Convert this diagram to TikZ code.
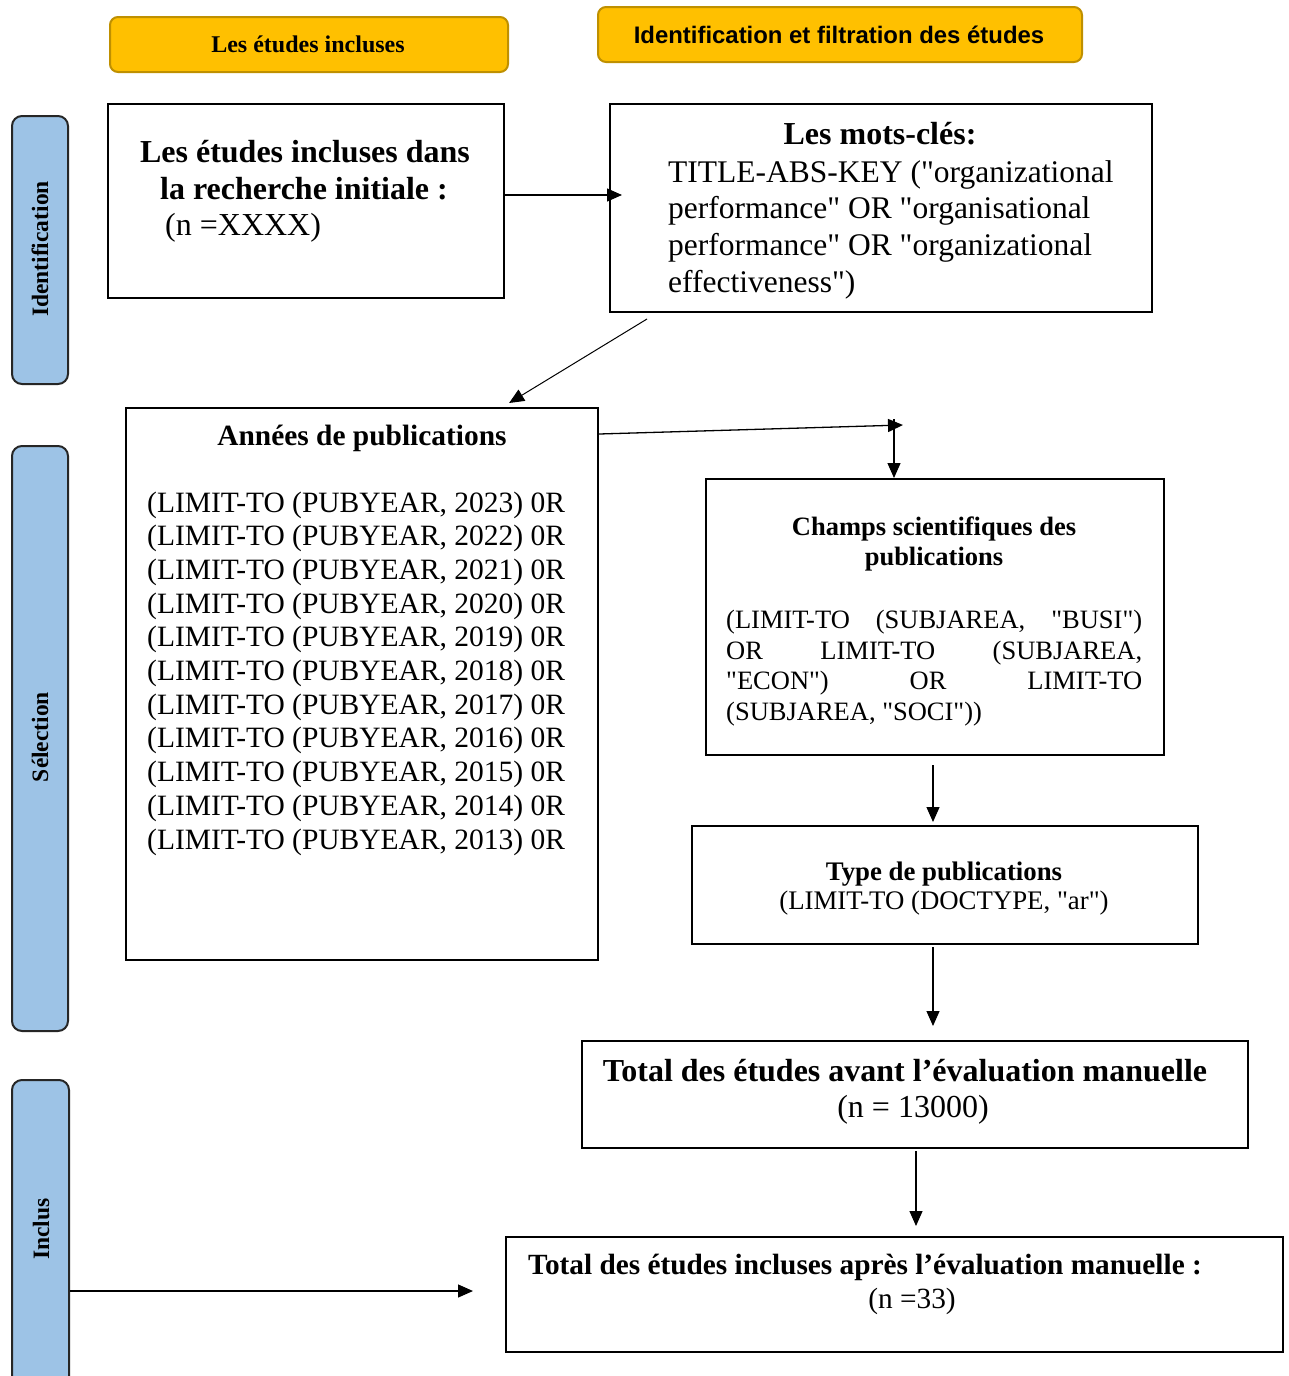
\documentclass[tikz,border=0pt]{standalone}
\usepackage{fontspec}
\setmainfont{Liberation Serif}[Ligatures=TeXOff]
\newfontfamily\arialfont{Liberation Sans}[Ligatures=TeXOff]
\usetikzlibrary{arrows.meta}
\definecolor{gold}{HTML}{FFC000}
\definecolor{golddark}{HTML}{BF9000}
\definecolor{lane}{HTML}{9DC3E6}
\newcommand{\fs}[2]{\fontsize{#1}{#2}\selectfont}
\tikzset{
  box/.style={draw=black, line width=2.2pt, rectangle, inner sep=0pt, anchor=north west},
  hdr/.style={draw=golddark, fill=gold, line width=2pt, rounded corners=8pt, inner sep=0pt, anchor=north west},
  lanebox/.style={draw=black!85, fill=lane, line width=2pt, rounded corners=10pt, inner sep=0pt, anchor=north west},
  lanetxt/.style={rotate=90, font=\bfseries\fs{23.5}{28}},
  txt/.style={inner sep=0pt, anchor=base},
  txtl/.style={inner sep=0pt, anchor=base west},
  arr/.style={line width=1.3pt, -{Triangle[length=15pt,width=13pt]}},
}
\begin{document}
\begin{tikzpicture}[x=1pt,y=-1pt]
\clip (0,0) rectangle (1289,1376);
\fill[white] (0,0) rectangle (1289,1376);

% headers
\node[hdr, minimum width=398, minimum height=55] (h1) at (109,16) {};
\node[txt, font=\bfseries\fs{24}{28}] (h1t) at (308,52) {Les études incluses};
\node[hdr, minimum width=484, minimum height=55] (h2) at (597,6) {};
\node[txt, font=\arialfont\bfseries\fs{23.9}{28}] (h2t) at (839,43) {Identification et filtration des études};

% lanes
\node[lanebox, minimum width=56, minimum height=268] (l1) at (11,115) {};
\node[lanetxt] (l1t) at (40,249) {Identification};
\node[lanebox, minimum width=56, minimum height=585] (l2) at (11,445) {};
\node[lanetxt] (l2t) at (40,737) {Sélection};
\node[lanebox, minimum width=57, minimum height=330] (l3) at (11,1079) {};
\node[lanetxt] (l3t) at (41,1229) {Inclus};

% Box A
\node[box, minimum width=396, minimum height=194] (A) at (107,103) {};
\node[txt, font=\bfseries\fs{32}{36}] (A1) at (305,162) {Les études incluses dans};
\node[txt, font=\bfseries\fs{32}{36}] (A2) at (304,199) {la recherche initiale :};
\node[txtl, font=\fs{32}{36}] (A3) at (165,235) {(n =XXXX)};

% Box B
\node[box, minimum width=542, minimum height=208] (B) at (609,103) {};
\node[txt, font=\bfseries\fs{32}{36}] (B0) at (880,144) {Les mots-clés:};
\node[txtl, font=\fs{31.5}{36}] (B1) at (668,182) {TITLE-ABS-KEY ("organizational};
\node[txtl, font=\fs{31.5}{36}] (B2) at (668,218) {performance" OR "organisational};
\node[txtl, font=\fs{31.5}{36}] (B3) at (668,255) {performance" OR "organizational};
\node[txtl, font=\fs{31.5}{36}] (B4) at (668,292) {effectiveness")};

% Box C
\node[box, minimum width=472, minimum height=552] (C) at (125,407) {};
\node[txt, font=\bfseries\fs{29.4}{33}] (C0) at (362,445) {Années de publications};
\foreach \yr [count=\i from 0] in {2023,2022,2021,2020,2019,2018,2017,2016,2015,2014,2013}{
  \node[txtl, font=\fs{29.5}{33}] (C\yr) at (147,{512+33.7*\i}) {(LIMIT-TO (PUBYEAR, \yr) 0R};
}

% Box D
\node[box, minimum width=458, minimum height=276] (D) at (705,478) {};
\node[txt, font=\bfseries\fs{26.5}{30}] (D0) at (934,535) {Champs scientifiques des};
\node[txt, font=\bfseries\fs{26.5}{30}] (D1) at (934,565) {publications};
\node[txtl, font=\fs{26.5}{30}] (D2) at (726,628) {\hbox to 416pt{(LIMIT-TO\hfill(SUBJAREA,\hfill"BUSI")}};
\node[txtl, font=\fs{26.5}{30}] (D3) at (726,659) {\hbox to 416pt{OR\hfill LIMIT-TO\hfill(SUBJAREA,}};
\node[txtl, font=\fs{26.5}{30}] (D4) at (726,689) {\hbox to 416pt{"ECON")\hfill OR\hfill LIMIT-TO}};
\node[txtl, font=\fs{26.5}{30}] (D5) at (726,720) {(SUBJAREA, "SOCI"))};

% Box E
\node[box, minimum width=506, minimum height=118] (E) at (691,825) {};
\node[txt, font=\bfseries\fs{26.8}{30}] (E0) at (944,880) {Type de publications};
\node[txt, font=\fs{26.8}{30}] (E1) at (944,909) {(LIMIT-TO (DOCTYPE, "ar")};

% Box F
\node[box, minimum width=666, minimum height=107] (F) at (581,1040) {};
\node[txt, font=\bfseries\fs{32}{36}] (F0) at (905,1081) {Total des études avant l’évaluation manuelle};
\node[txt, font=\fs{32}{36}] (F1) at (913,1117) {(n = 13000)};

% Box G
\node[box, minimum width=777, minimum height=115] (G) at (505,1236) {};
\node[txt, font=\bfseries\fs{29.3}{34}] (G0) at (865,1274) {Total des études incluses après l’évaluation manuelle :};
\node[txt, font=\fs{29.3}{34}] (G1) at (912,1308) {(n =33)};

% connectors
\draw[arr] (A.east |- 0,195) -- ([xshift=13pt]B.west |- 0,195);
\coordinate (bd) at (647,319);
\draw[arr, line width=1pt] (bd) -- ([xshift=147pt,yshift=4pt]C.north);
\coordinate (k1) at (903,425);
\draw[arr] (C.east |- 0,434) -- (k1);
\coordinate (k2) at (894,419);
\draw[arr] (k2) -- (D.north -| k2);
\coordinate (d1) at (933,765);
\draw[arr] (d1) -- ([yshift=3pt]E.north -| d1);
\coordinate (e1) at (933,947);
\draw[arr] (e1) -- (933,1026);
\coordinate (f1) at (916,1151);
\draw[arr] (f1) -- (916,1226);
\draw[arr] (l3.east |- 0,1291) -- (473,1291);
\end{tikzpicture}
\end{document}
